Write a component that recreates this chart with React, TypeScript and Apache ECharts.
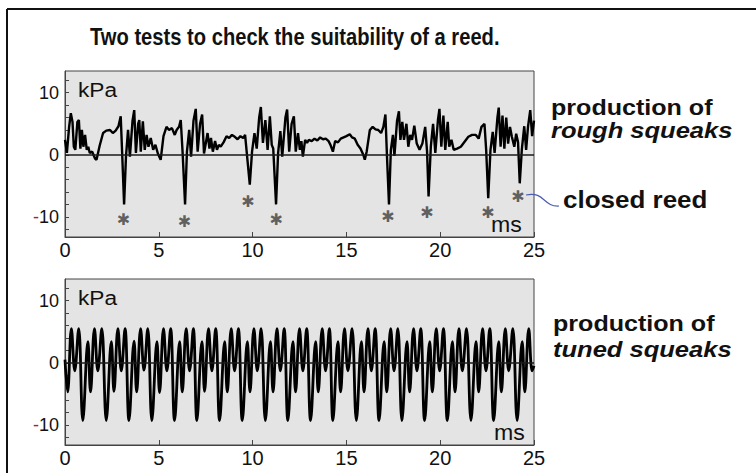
import React, { useEffect, useRef } from 'react';
import * as echarts from 'echarts';

const timeRange = [0, 25];
const pressureLabels = [-10, 0, 10];
const pressureTicks = [-12, -10, -8, -6, -4, -2, 0, 2, 4, 6, 8, 10, 12];

// Top panel: rough squeaks (ms, kPa)
const roughSqueaks: number[][] = [
  [0, 2.4], [0.1, 0.3], [0.22, 4.5], [0.31, 6.7], [0.4, 5.3], [0.47, 1.3], [0.55, 0.8], [0.66, 5.3], [0.74, 5.6],
  [0.82, 1.0], [0.9, 4.0], [0.98, 1.3], [1.07, 3.2], [1.16, 0.8], [1.24, 1.3], [1.32, 0.3], [1.45, 0.5], [1.6, -0.6],
  [1.68, -0.8], [1.85, 1.5], [2.03, 3.5], [2.2, 3.9], [2.4, 4.0], [2.55, 3.5], [2.7, 3.9], [2.85, 4.6], [2.97, 6.2],
  [3.05, 0.0], [3.15, -8.0], [3.25, -0.3], [3.36, 4.0], [3.46, -0.3], [3.6, 5.5], [3.69, 7.2], [3.78, 0.3], [3.9, 5.0],
  [3.96, 5.6], [4.04, 0.5], [4.15, 5.4], [4.25, 0.8], [4.35, 3.2], [4.45, 1.3], [4.57, 2.7], [4.7, 0.8], [4.82, 1.6],
  [4.95, 0.2], [5.1, -0.8], [5.25, 3.0], [5.41, 4.5], [5.55, 4.0], [5.7, 4.3], [5.85, 3.2], [5.95, 4.0], [6.08, 4.5],
  [6.17, 5.6], [6.27, 0.3], [6.4, -8.0], [6.5, 0.5], [6.62, 4.0], [6.72, -0.3], [6.85, 5.5], [6.97, 7.4], [7.07, 0.5],
  [7.2, 5.0], [7.31, 6.5], [7.41, 0.2], [7.6, 3.5], [7.7, 1.0], [7.78, 2.7], [7.88, 0.5], [8.0, 2.2], [8.1, 0.8],
  [8.2, 1.6], [8.3, 1.3], [8.45, 2.0], [8.61, 3.0], [8.75, 2.7], [8.9, 3.2], [9.05, 2.9], [9.2, 2.5], [9.35, 3.0],
  [9.5, 2.7], [9.6, 3.2], [9.7, 0.0], [9.85, -4.8], [9.97, 0.5], [10.1, 3.5], [10.22, 1.0], [10.35, 6.0], [10.44, 7.7],
  [10.55, 1.9], [10.68, 5.6], [10.8, 0.8], [10.92, 6.2], [11.02, 1.6], [11.1, 1.0], [11.25, -8.0], [11.36, 0.3],
  [11.48, 3.8], [11.58, -0.3], [11.75, 6.0], [11.84, 7.3], [11.95, 0.5], [12.08, 5.0], [12.2, 6.2], [12.3, 0.5],
  [12.42, 3.5], [12.52, 0.8], [12.6, 2.2], [12.68, -0.3], [12.8, 2.4], [12.9, 1.9], [13.0, 2.4], [13.15, 2.2],
  [13.3, 2.6], [13.45, 2.3], [13.6, 2.8], [13.75, 2.5], [13.9, 2.6], [14.05, 2.2], [14.15, 1.6], [14.28, 0.5],
  [14.4, 2.2], [14.55, 2.0], [14.7, 2.6], [14.85, 2.8], [15.0, 3.0], [15.18, 3.3], [15.3, 2.8], [15.45, 2.6],
  [15.6, 1.6], [15.75, 1.0], [15.9, 0.0], [15.98, -0.8], [16.08, 0.5], [16.25, 4.0], [16.4, 4.5], [16.55, 4.1],
  [16.7, 4.0], [16.85, 3.5], [16.97, 4.5], [17.08, 6.5], [17.16, 0.0], [17.27, -8.0], [17.37, 0.8], [17.48, 3.2],
  [17.56, -0.2], [17.7, 5.5], [17.8, 7.0], [17.88, 2.4], [17.98, 5.3], [18.07, 2.4], [18.2, 5.0], [18.3, 1.3],
  [18.4, 3.2], [18.5, 2.4], [18.62, 4.7], [18.75, 1.8], [18.9, 0.8], [19.05, 1.8], [19.2, 4.5], [19.3, 0.5],
  [19.38, -6.7], [19.5, 1.3], [19.62, 5.0], [19.74, 0.3], [19.88, 5.6], [19.96, 7.4], [20.06, 1.3], [20.17, 6.3],
  [20.27, 0.8], [20.4, 5.3], [20.48, 1.3], [20.6, 2.4], [20.72, 0.8], [20.9, 1.0], [21.1, 1.3], [21.3, 2.1],
  [21.5, 2.9], [21.7, 3.2], [21.9, 3.2], [22.05, 2.6], [22.2, 4.5], [22.36, 5.0], [22.45, 0.8], [22.56, -7.0],
  [22.68, 0.8], [22.8, 3.7], [22.9, 0.3], [23.05, 6.0], [23.12, 7.6], [23.22, 1.3], [23.32, 6.3], [23.42, 1.0],
  [23.52, 6.0], [23.62, 1.8], [23.72, 4.5], [23.82, 2.9], [23.95, 1.3], [24.05, 3.4], [24.15, 2.0], [24.24, -4.6],
  [24.35, 0.8], [24.48, 4.6], [24.58, 0.8], [24.68, 4.5], [24.8, 7.2], [24.9, 3.0], [25.0, 5.5],
];

// Asterisks marking the closed-reed moments (ms, kPa)
const closedReedMarks: number[][] = [
  [3.12, -10.4], [6.37, -10.8], [9.75, -7.5], [11.26, -10.4], [17.21, -10.0], [19.29, -9.3], [22.54, -9.3], [24.14, -6.7],
];

// Bottom panel: tuned squeaks (ms, kPa) – extrema of the waveform
const tunedSqueaks: number[][] = [
  [0, 0.5], [0.14, -4.7], [0.34, 5.5], [0.52, -1.3], [0.73, 5.5],
  [0.95, -9.3], [1.22, 3.4], [1.36, -4.7], [1.57, 5.5], [1.75, -1.3], [1.96, 5.5],
  [2.2, -9.3], [2.47, 3.4], [2.61, -4.6], [2.82, 5.5], [3.0, -1.3], [3.2, 5.5],
  [3.41, -9.3], [3.68, 3.5], [3.82, -4.7], [4.03, 5.5], [4.21, -1.2], [4.41, 5.5],
  [4.63, -9.3], [4.9, 3.4], [5.04, -4.8], [5.25, 5.5], [5.43, -1.3], [5.63, 5.5],
  [5.84, -9.3], [6.11, 3.4], [6.25, -4.7], [6.46, 5.5], [6.64, -1.3], [6.84, 5.5],
  [7.03, -9.3], [7.3, 3.4], [7.44, -4.6], [7.65, 5.5], [7.83, -1.3], [8.03, 5.5],
  [8.24, -9.3], [8.51, 3.4], [8.65, -4.7], [8.86, 5.5], [9.04, -1.3], [9.24, 5.5],
  [9.45, -9.3], [9.72, 3.4], [9.86, -4.7], [10.07, 5.5], [10.25, -1.3], [10.45, 5.5],
  [10.68, -9.3], [10.95, 3.4], [11.09, -4.7], [11.3, 5.5], [11.48, -1.3], [11.68, 5.5],
  [11.88, -9.3], [12.15, 3.4], [12.29, -4.7], [12.5, 5.5], [12.68, -1.3], [12.88, 5.5],
  [13.09, -9.3], [13.36, 3.4], [13.5, -4.7], [13.71, 5.5], [13.89, -1.3], [14.09, 5.5],
  [14.28, -9.3], [14.55, 3.4], [14.69, -4.7], [14.9, 5.5], [15.08, -1.3], [15.3, 5.5],
  [15.53, -9.3], [15.8, 3.4], [15.94, -4.7], [16.15, 5.5], [16.33, -1.3], [16.53, 5.5],
  [16.74, -9.3], [17.01, 3.4], [17.15, -4.7], [17.36, 5.5], [17.54, -1.3], [17.74, 5.5],
  [17.96, -9.3], [18.23, 3.4], [18.37, -4.7], [18.58, 5.5], [18.76, -1.3], [18.96, 5.5],
  [19.17, -9.3], [19.44, 3.4], [19.58, -4.7], [19.79, 5.5], [19.97, -1.3], [20.17, 5.5],
  [20.38, -9.3], [20.65, 3.4], [20.79, -4.7], [21.0, 5.5], [21.18, -1.3], [21.4, 5.5],
  [21.64, -9.3], [21.91, 3.4], [22.05, -4.7], [22.26, 5.5], [22.44, -1.3], [22.64, 5.5],
  [22.85, -9.3], [23.12, 3.4], [23.26, -4.7], [23.47, 5.5], [23.65, -1.3], [23.87, 5.5],
  [24.1, -9.3], [24.37, 3.4], [24.51, -4.7], [24.72, 5.5], [24.9, -1.3], [25.0, -0.5],
];

const FONT = '"Liberation Sans", Arial, Helvetica, sans-serif';

function xAxisFor(gridIndex: number) {
  return {
    type: 'value', gridIndex, min: timeRange[0], max: timeRange[1], interval: 5,
    axisLine: { show: true, onZero: false, lineStyle: { color: '#444', width: 1 } },
    axisTick: { show: true, inside: true, length: 5, lineStyle: { color: '#444' } },
    axisLabel: { show: true, fontSize: 20, color: '#111', margin: 3, fontFamily: FONT },
    splitLine: { show: false },
  };
}

function yAxisFor(gridIndex: number) {
  return {
    type: 'value', gridIndex, min: -13.25, max: 13.5,
    axisLine: { show: true, onZero: false, lineStyle: { color: '#444', width: 1 } },
    axisTick: { show: true, inside: true, length: 4, customValues: pressureTicks, lineStyle: { color: '#444' } },
    axisLabel: {
      show: true, margin: 6, fontSize: 18, fontFamily: FONT, color: '#111',
      customValues: pressureLabels,
      formatter: (v: number) => (v < 0 ? '{r|-}{n|' + Math.abs(v) + '}' : '{n|' + v + '}'),
      rich: {
        r: { color: '#b02020', fontSize: 18, fontFamily: FONT },
        n: { color: '#111', fontSize: 18, fontFamily: FONT },
      },
    },
    splitLine: { show: false },
  };
}

function txt(x: number, y: number, text: string, font: string, scaleX = 1, fill = '#111') {
  return {
    type: 'text', x, y, scaleX,
    style: { x: 0, y: 0, text, font, fill, align: 'left', verticalAlign: 'middle' },
  };
}

export default function App() {
  const ref = useRef<HTMLDivElement>(null);
  useEffect(() => {
    const chart = echarts.init(ref.current!, null, { renderer: 'svg' });
    const zeroLine = {
      silent: true, symbol: ['none', 'none'], label: { show: false },
      lineStyle: { color: '#1a1a1a', width: 1.5, type: 'solid' },
      data: [{ yAxis: 0 }],
    };
    chart.setOption({
      animation: false,
      backgroundColor: '#ffffff',
      grid: [
        { left: 65, top: 71, width: 469, height: 166, show: true, backgroundColor: '#e4e4e4', borderColor: '#444', borderWidth: 1 },
        { left: 65, top: 279, width: 469, height: 166, show: true, backgroundColor: '#e4e4e4', borderColor: '#444', borderWidth: 1 },
      ],
      xAxis: [xAxisFor(0), xAxisFor(1)],
      yAxis: [yAxisFor(0), yAxisFor(1)],
      series: [
        {
          type: 'line', xAxisIndex: 0, yAxisIndex: 0, data: roughSqueaks, showSymbol: false,
          lineStyle: { color: '#000', width: 2.4 }, markLine: zeroLine, z: 3,
        },
        {
          type: 'scatter', xAxisIndex: 0, yAxisIndex: 0, data: closedReedMarks, symbolSize: 1,
          itemStyle: { color: 'rgba(0,0,0,0)' },
          label: { show: true, position: 'inside', formatter: '✱', fontSize: 16, color: '#3c3c3c', fontFamily: '"DejaVu Sans"' },
          z: 4,
        },
        {
          type: 'line', xAxisIndex: 1, yAxisIndex: 1, data: tunedSqueaks, showSymbol: false, smooth: 0.4,
          lineStyle: { color: '#000', width: 2.8 }, markLine: zeroLine, z: 3,
        },
      ],
      graphic: [
        { type: 'line', shape: { x1: 7, y1: 9, x2: 756, y2: 9 }, style: { stroke: '#111', lineWidth: 2 } },
        { type: 'line', shape: { x1: 7, y1: 9, x2: 7, y2: 473 }, style: { stroke: '#111', lineWidth: 2 } },
        txt(90, 37, 'Two tests to check the suitability of a reed.', 'bold 24px ' + FONT, 0.84),
        txt(78, 90, 'kPa', '21px ' + FONT, 1.08),
        txt(491, 225, 'ms', '22px ' + FONT, 1.05),
        txt(78, 298, 'kPa', '21px ' + FONT, 1.08),
        txt(494, 433, 'ms', '22px ' + FONT, 1.05),
        txt(551, 107.5, 'production of', 'bold 22px ' + FONT, 1.14),
        txt(551, 130.5, 'rough squeaks', 'italic bold 22px ' + FONT, 1.16),
        txt(563, 200, 'closed reed', 'bold 23px ' + FONT, 1.13),
        txt(553, 324, 'production of', 'bold 22px ' + FONT, 1.14),
        txt(553, 349, 'tuned squeaks', 'italic bold 22px ' + FONT, 1.16),
        {
          type: 'bezierCurve',
          shape: { x1: 526, y1: 195, cpx1: 545, cpy1: 191, cpx2: 543, cpy2: 207, x2: 559, y2: 206 },
          style: { stroke: '#4a5cb0', lineWidth: 1.2, fill: 'none' },
        },
      ],
    });
    return () => chart.dispose();
  }, []);
  return (
    <div
      ref={ref}
      style={{ position: 'fixed', left: 0, top: 0, width: 756, height: 473, background: '#fff' }}
    />
  );
}
